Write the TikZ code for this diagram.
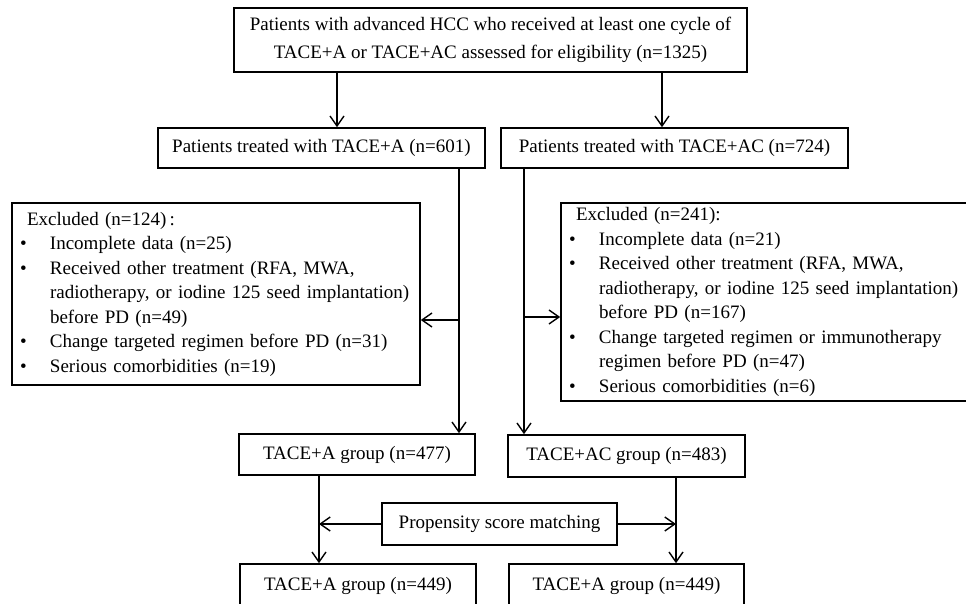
\documentclass[tikz,border=0pt]{standalone}
\usepackage{fontspec}
\setmainfont{Liberation Serif}
\usetikzlibrary{positioning,calc,arrows.meta}
\tikzset{
    every node/.style={font=\fontsize{19}{24.5}\selectfont},
    box/.style={draw, line width=1.6pt, inner sep=0pt, align=center},
    listbox/.style={draw, line width=1.6pt, inner xsep=8pt, inner ysep=0pt, align=left},
    arrow/.style={-{Straight Barb[length=10pt, width=14pt]}, line width=1.4pt},
}
\newcommand{\exbullet}{\makebox[30pt][l]{\textbullet}}
\newcommand{\exindent}{\hspace*{30pt}}

\begin{document}
\begin{tikzpicture}[x=1pt, y=-1pt]
\useasboundingbox (0,0) rectangle (966,604);
% eligibility and the two treatment arms
\node[box, minimum width=513, minimum height=64, font=\fontsize{19}{28}\selectfont] (top) at (490.5,40)
    {Patients with advanced HCC who received at least one cycle of\\TACE+A or TACE+AC assessed for eligibility (n=1325)};
\node[box, minimum width=327, minimum height=40] (pA) at (321.5,148) {Patients treated with TACE+A (n=601)};
\node[box, minimum width=347, minimum height=40] (pAC) at (674.5,148) {Patients treated with TACE+AC (n=724)};
% exclusion boxes
\node[listbox, text width=392, minimum height=182] (exA) at (216,294)
    {\hspace*{7pt}Excluded (n=124)\,:\\
     \exbullet Incomplete data (n=25)\\
     \exbullet Received other treatment (RFA, MWA,\\
     \exindent radiotherapy, or iodine 125 seed implantation)\\
     \exindent before PD (n=49)\\
     \exbullet Change targeted regimen before PD (n=31)\\
     \exbullet Serious comorbidities (n=19)};
\node[listbox, text width=404, minimum height=198] (exAC) at (771,302)
    {\hspace*{7pt}Excluded (n=241):\\
     \exbullet Incomplete data (n=21)\\
     \exbullet Received other treatment (RFA, MWA,\\
     \exindent radiotherapy, or iodine 125 seed implantation)\\
     \exindent before PD (n=167)\\
     \exbullet Change targeted regimen or immunotherapy\\
     \exindent regimen before PD (n=47)\\
     \exbullet Serious comorbidities (n=6)};
% groups before and after matching
\node[box, minimum width=236, minimum height=41] (gA) at (357,454.5) {TACE+A group (n=477)};
\node[box, minimum width=237, minimum height=42] (gAC) at (626.5,456) {TACE+AC group (n=483)};
\node[box, minimum width=235, minimum height=42] (psm) at (499.5,524) {Propensity score matching};
\node[box, minimum width=236, minimum height=44] (mA) at (358,586) {TACE+A group (n=449)};
\node[box, minimum width=235, minimum height=44] (mAC) at (626.5,586) {TACE+A group (n=449)};
% where the connectors run
\coordinate (xA) at (337,0);
\coordinate (xAC) at (662,0);
\coordinate (xL) at (459,0);
\coordinate (xR) at (524,0);
\coordinate (xLL) at (319,0);
\coordinate (xRR) at (676,0);
\coordinate (yExA) at (0,320);
\coordinate (yExAC) at (0,317);
\draw[arrow] (top.south -| xA) -- (pA.north -| xA);
\draw[arrow] (top.south -| xAC) -- (pAC.north -| xAC);
\draw[arrow] (pA.south -| xL) -- (gA.north -| xL);
\draw[arrow] (pAC.south -| xR) -- (gAC.north -| xR);
\draw[arrow] (xL |- yExA) -- (exA.east |- yExA);
\draw[arrow] (xR |- yExAC) -- (exAC.west |- yExAC);
\draw[arrow] (gA.south -| xLL) -- (mA.north -| xLL);
\draw[arrow] (gAC.south -| xRR) -- (mAC.north -| xRR);
\draw[arrow] (psm.west) -- (psm.west -| xLL);
\draw[arrow] (psm.east) -- (psm.east -| xRR);
\end{tikzpicture}
\end{document}
